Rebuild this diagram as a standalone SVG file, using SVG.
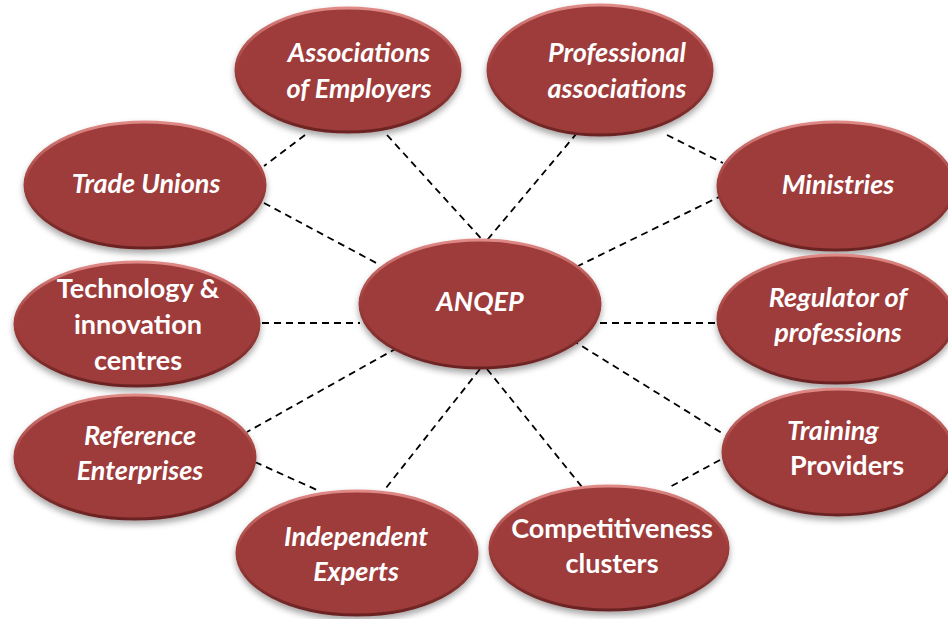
<svg xmlns="http://www.w3.org/2000/svg" width="948" height="619" viewBox="0 0 948 619">
<defs>
<linearGradient id="rim" x1="0" y1="0" x2="0" y2="1">
<stop offset="0" stop-color="#e08a87"/>
<stop offset="0.45" stop-color="#a3403e"/>
<stop offset="1" stop-color="#6a2322"/>
</linearGradient>
<filter id="sh" x="-20%" y="-20%" width="140%" height="150%">
<feDropShadow dx="0" dy="4" stdDeviation="3" flood-color="#000" flood-opacity="0.35"/>
</filter>
</defs>
<style>
.n ellipse{fill:#9e3b3a;stroke:url(#rim);stroke-width:3;filter:url(#sh)}
.n text{font-family:"Lato","Open Sans","Liberation Sans",sans-serif;font-weight:bold;font-size:27px;fill:#fff;text-anchor:middle}
.i{font-style:italic}
.c line{stroke:#000;stroke-width:1.8;stroke-dasharray:7,5;fill:none}
</style>
<g class="c" id="connectors">
<line x1="305" y1="135" x2="264" y2="166"/>
<line x1="387" y1="135" x2="487" y2="245"/>
<line x1="264" y1="203" x2="380" y2="265"/>
<line x1="577" y1="133" x2="483" y2="245"/>
<line x1="667" y1="135" x2="723" y2="163"/>
<line x1="723" y1="195" x2="578" y2="266"/>
<line x1="262" y1="323" x2="360" y2="323"/>
<line x1="600" y1="323" x2="718" y2="323"/>
<line x1="397" y1="348" x2="247" y2="432"/>
<line x1="255" y1="462" x2="317" y2="490"/>
<line x1="480" y1="369" x2="382" y2="493"/>
<line x1="487" y1="369" x2="582" y2="487"/>
<line x1="572" y1="340" x2="725" y2="435"/>
<line x1="720" y1="460" x2="668" y2="488"/>
</g>
<g class="n" id="n-assoc-employers">
<ellipse cx="348" cy="70" rx="112" ry="62"/>
<text class="i" x="359" y="62">Associations</text>
<text class="i" x="359" y="98">of Employers</text>
</g>
<g class="n" id="n-professional">
<ellipse cx="600" cy="70" rx="112" ry="65"/>
<text class="i" x="617" y="62">Professional</text>
<text class="i" x="617" y="98">associations</text>
</g>
<g class="n" id="n-trade-unions">
<ellipse cx="145" cy="185" rx="120" ry="63"/>
<text class="i" x="146" y="193">Trade Unions</text>
</g>
<g class="n" id="n-ministries">
<ellipse cx="836" cy="186" rx="118" ry="64"/>
<text class="i" x="838" y="194">Ministries</text>
</g>
<g class="n" id="n-anqep">
<ellipse cx="480" cy="304" rx="120" ry="64"/>
<text class="i" x="480" y="311">ANQEP</text>
</g>
<g class="n" id="n-technology">
<ellipse cx="137" cy="324" rx="122" ry="62"/>
<text x="138" y="298">Technology &amp;</text>
<text x="138" y="334">innovation</text>
<text x="138" y="370">centres</text>
</g>
<g class="n" id="n-regulator">
<ellipse cx="836" cy="319" rx="118" ry="64"/>
<text class="i" x="838" y="307">Regulator of</text>
<text class="i" x="838" y="342">professions</text>
</g>
<g class="n" id="n-reference">
<ellipse cx="135" cy="457" rx="120" ry="62"/>
<text class="i" x="140" y="445">Reference</text>
<text class="i" x="140" y="480">Enterprises</text>
</g>
<g class="n" id="n-training">
<ellipse cx="838" cy="452" rx="115" ry="63"/>
<text class="i" x="833" y="440">Training</text>
<text x="847" y="475">Providers</text>
</g>
<g class="n" id="n-independent">
<ellipse cx="357" cy="553" rx="120" ry="62"/>
<text class="i" x="356" y="546">Independent</text>
<text class="i" x="356" y="581">Experts</text>
</g>
<g class="n" id="n-competitiveness">
<ellipse cx="609" cy="548" rx="119" ry="62"/>
<text x="612" y="538">Competitiveness</text>
<text x="612" y="573">clusters</text>
</g>
</svg>
